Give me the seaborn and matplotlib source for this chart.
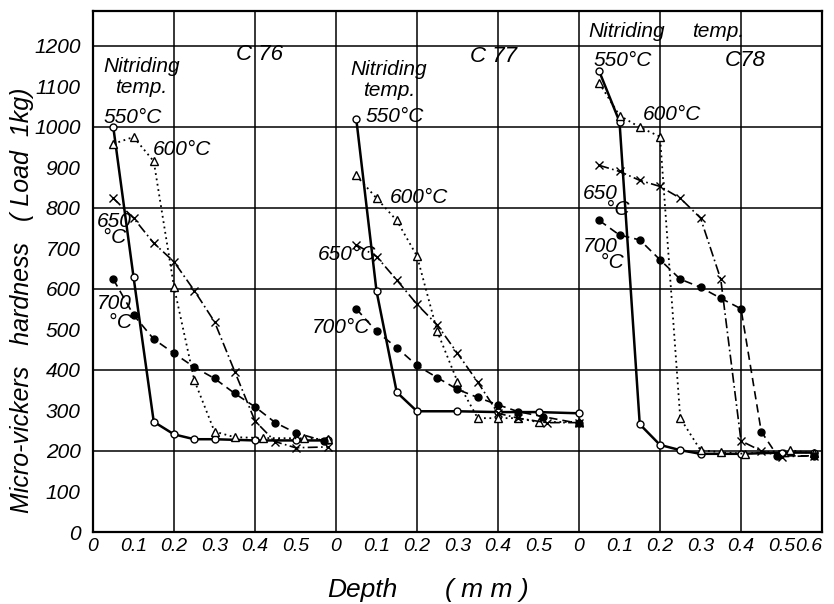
import matplotlib
matplotlib.use("Agg")
import matplotlib.pyplot as plt
import seaborn as sns

# depth (mm) and micro-vickers hardness
c76_550_x = [0.05, 0.10, 0.15, 0.20, 0.25, 0.30, 0.40, 0.50, 0.58]
c76_550_y = [1000, 630, 272, 241, 229, 229, 226, 226, 226]
c76_600_x = [0.05, 0.10, 0.15, 0.20, 0.25, 0.30, 0.35, 0.42, 0.52, 0.58]
c76_600_y = [958, 975, 915, 605, 375, 248, 234, 232, 231, 229]
c76_650_x = [0.05, 0.10, 0.15, 0.20, 0.25, 0.30, 0.35, 0.40, 0.45, 0.50, 0.58]
c76_650_y = [824, 775, 713, 667, 596, 519, 396, 274, 223, 208, 210]
c76_700_x = [0.05, 0.10, 0.15, 0.20, 0.25, 0.30, 0.35, 0.40, 0.45, 0.50, 0.57]
c76_700_y = [624, 536, 476, 441, 407, 379, 342, 309, 270, 245, 225]

c77_550_x = [0.05, 0.10, 0.15, 0.20, 0.30, 0.40, 0.50, 0.60]
c77_550_y = [1020, 595, 345, 298, 298, 296, 296, 293]
c77_600_x = [0.05, 0.10, 0.15, 0.20, 0.25, 0.30, 0.35, 0.40, 0.45, 0.50, 0.60]
c77_600_y = [880, 824, 769, 681, 495, 371, 281, 281, 281, 271, 272]
c77_650_x = [0.05, 0.10, 0.15, 0.20, 0.25, 0.30, 0.35, 0.40, 0.45, 0.52, 0.60]
c77_650_y = [709, 680, 622, 562, 511, 441, 370, 293, 281, 270, 270]
c77_700_x = [0.05, 0.10, 0.15, 0.20, 0.25, 0.30, 0.35, 0.40, 0.45, 0.51, 0.60]
c77_700_y = [551, 495, 455, 411, 381, 352, 332, 314, 297, 285, 268]

c78_550_x = [0.05, 0.10, 0.15, 0.20, 0.25, 0.30, 0.40, 0.50, 0.58]
c78_550_y = [1137, 1013, 266, 215, 202, 193, 193, 196, 196]
c78_600_x = [0.05, 0.10, 0.15, 0.20, 0.25, 0.30, 0.35, 0.41, 0.52, 0.58]
c78_600_y = [1108, 1028, 999, 976, 281, 202, 197, 193, 202, 194]
c78_650_x = [0.05, 0.10, 0.15, 0.20, 0.25, 0.30, 0.35, 0.40, 0.45, 0.50, 0.58]
c78_650_y = [905, 890, 868, 853, 824, 775, 624, 225, 200, 186, 188]
c78_700_x = [0.05, 0.10, 0.15, 0.20, 0.25, 0.30, 0.35, 0.40, 0.45, 0.49, 0.58]
c78_700_y = [769, 733, 721, 672, 624, 604, 577, 551, 248, 188, 188]

steels = ["C 76", "C 77", "C78"]
panel_width = 0.6
y_ticks = list(range(0, 1201, 100))
y_ticklabels = ["0", "100", "200", "300", "400", "500", "600", "700",
                "800", "900", "1000", "1100", "1200"]

series = {
    "C 76": [(c76_550_x, c76_550_y), (c76_600_x, c76_600_y),
             (c76_650_x, c76_650_y), (c76_700_x, c76_700_y)],
    "C 77": [(c77_550_x, c77_550_y), (c77_600_x, c77_600_y),
             (c77_650_x, c77_650_y), (c77_700_x, c77_700_y)],
    "C78": [(c78_550_x, c78_550_y), (c78_600_x, c78_600_y),
            (c78_650_x, c78_650_y), (c78_700_x, c78_700_y)],
}

# 550, 600, 650, 700 degC
styles = [
    dict(linestyle="-", linewidth=1.8, marker="o", markerfacecolor="white", markersize=5),
    dict(linestyle=(0, (1, 2)), linewidth=1.3, marker="^", markerfacecolor="white", markersize=6),
    dict(linestyle=(0, (6, 2, 1, 2)), linewidth=1.2, marker="x", markerfacecolor="black", markersize=6),
    dict(linestyle=(0, (5, 3)), linewidth=1.2, marker="o", markerfacecolor="black", markersize=5),
]

sns.set_theme(style="white")
plt.rcParams["font.family"] = ["Liberation Sans", "DejaVu Sans"]
plt.rcParams["font.style"] = "italic"
plt.rcParams["text.color"] = "black"
plt.rcParams["xtick.color"] = "black"
plt.rcParams["ytick.color"] = "black"

fig = plt.figure(figsize=(8.34, 6.04), dpi=100)
ax = fig.add_axes([93 / 834, 72 / 604, 729 / 834, 521 / 604])

for i, steel in enumerate(steels):
    offset = i * panel_width
    for (xs, ys), st in zip(series[steel], styles):
        sns.lineplot(
            x=[x + offset for x in xs], y=ys, ax=ax, color="black",
            sort=False, estimator=None, markeredgecolor="black",
            markeredgewidth=1.0, **st,
        )

ax.set_xlim(0, 3 * panel_width)
ax.set_ylim(0, 1286)

xticks, xlabels = [], []
for i in range(3):
    last = 7 if i == 2 else 6
    for k in range(last):
        xticks.append(i * panel_width + k / 10)
        xlabels.append("0" if k == 0 else f"0.{k}")
ax.set_xticks(xticks)
ax.set_xticklabels(xlabels, fontsize=14)
ax.set_yticks(y_ticks)
ax.set_yticklabels(y_ticklabels, fontsize=15)
ax.tick_params(direction="in", length=6, width=1.2, color="black", pad=4)
ax.tick_params(axis="y", pad=9)
# keep the last depth label inside the picture
ax.get_xticklabels()[-1].set_horizontalalignment("right")

for v in range(200, 1201, 200):
    ax.axhline(v, color="black", linewidth=1.1, zorder=0)
for k in range(1, 9):
    ax.axvline(k * 0.2, color="black", linewidth=1.1, zorder=0)
for s in ax.spines.values():
    s.set_color("black")
    s.set_linewidth(1.6)

notes = [
    ("Nitriding", 0.025, 1148, 1.0), ("temp.", 0.054, 1096, 1.0),
    ("550°C", 0.025, 1022, 1.0), ("600°C", 0.148, 943, 1.0),
    ("650\n °C", 0.01, 746, 0.8), ("700\n  °C", 0.01, 541, 1.0),
    ("Nitriding", 0.635, 1141, 1.0), ("temp.", 0.667, 1091, 1.0),
    ("550°C", 0.672, 1025, 1.0), ("600°C", 0.733, 825, 1.0),
    ("650°C", 0.556, 684, 1.0), ("700°C", 0.541, 506, 1.0),
    ("Nitriding", 1.222, 1235, 1.0), ("temp.", 1.479, 1235, 1.0),
    ("550°C", 1.235, 1165, 1.0), ("600°C", 1.358, 1030, 1.0),
    ("650\n    °C", 1.21, 815, 0.8), ("700\n   °C", 1.21, 684, 0.8),
]
for txt, x, y, ls in notes:
    ax.text(x, y, txt, fontsize=15, ha="left", va="center", linespacing=ls, zorder=5)

for txt, x, y in [("C 76", 0.411, 1178), ("C 77", 0.989, 1173), ("C78", 1.61, 1165)]:
    ax.text(x, y, txt, fontsize=16, ha="center", va="center")

fig.text(22 / 834, 1 - 300 / 604, "Micro-vickers   hardness   ( Load  1kg)",
         rotation=90, ha="center", va="center", fontsize=18)
fig.text(362 / 834, 1 - 590 / 604, "Depth", ha="center", va="center", fontsize=19)
fig.text(487 / 834, 1 - 590 / 604, "( m m )", ha="center", va="center", fontsize=19)

plt.savefig("out.png", dpi=100)
plt.close()
